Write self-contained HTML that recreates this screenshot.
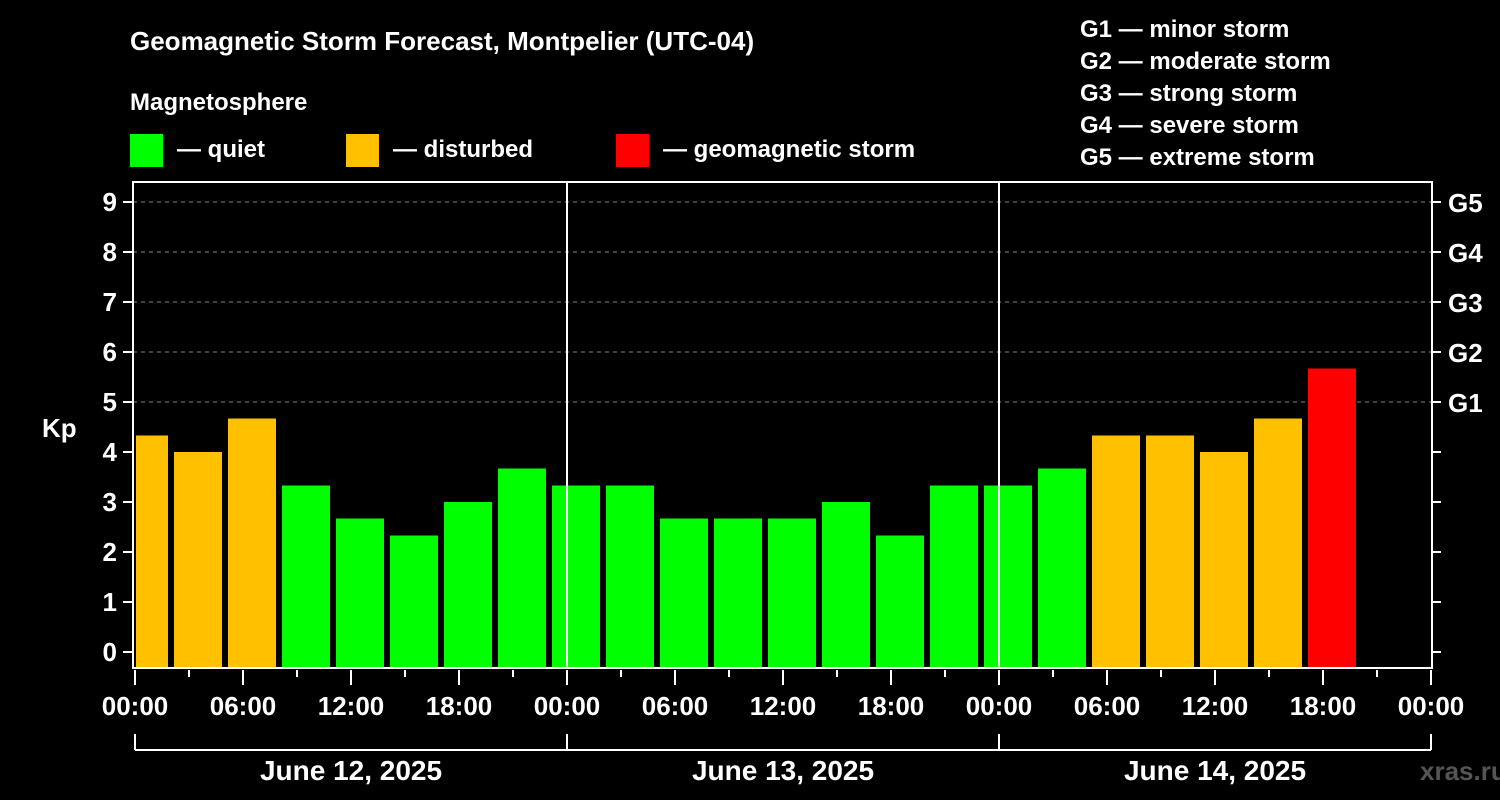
<!DOCTYPE html>
<html><head><meta charset="utf-8"><style>
html,body{margin:0;padding:0;background:#000;}
svg{display:block;font-family:"Liberation Sans",Arial,sans-serif;font-weight:bold;}
</style></head><body>
<svg id="c" width="1500" height="800" viewBox="0 0 1500 800">
<rect width="1500" height="800" fill="#000"/>
<text x="130" y="50" fill="#fff" font-size="26">Geomagnetic Storm Forecast, Montpelier (UTC-04)</text>
<text x="130" y="110" fill="#fff" font-size="24">Magnetosphere</text>
<g><rect x="130" y="134" width="33" height="33" fill="#00ff00"/><text x="177" y="157" fill="#fff" font-size="24">— quiet</text></g>
<g><rect x="346" y="134" width="33" height="33" fill="#ffc000"/><text x="393" y="157" fill="#fff" font-size="24">— disturbed</text></g>
<g><rect x="616" y="134" width="33" height="33" fill="#ff0000"/><text x="663" y="157" fill="#fff" font-size="24">— geomagnetic storm</text></g>
<g fill="#fff" font-size="24">
<text x="1080" y="37">G1 — minor storm</text>
<text x="1080" y="69">G2 — moderate storm</text>
<text x="1080" y="101">G3 — strong storm</text>
<text x="1080" y="133">G4 — severe storm</text>
<text x="1080" y="165">G5 — extreme storm</text>
</g>
<text x="42" y="437" fill="#fff" font-size="26">Kp</text>
<text x="1420" y="780" fill="#555" font-size="26">xras.ru</text>
<g id="plot"></g>
</svg>
<script>
const kpValues=[4.33,4.0,4.67,3.33,2.67,2.33,3.0,3.67,3.33,3.33,2.67,2.67,2.67,3.0,2.33,3.33,3.33,3.67,4.33,4.33,4.0,4.67,5.67];
const yTicks=[0,1,2,3,4,5,6,7,8,9];
const gLabels=["G1","G2","G3","G4","G5"];
const xTickLabels=["00:00","06:00","12:00","18:00","00:00","06:00","12:00","18:00","00:00","06:00","12:00","18:00","00:00"];
const dayLabels=["June 12, 2025","June 13, 2025","June 14, 2025"];
const NS="http://www.w3.org/2000/svg";
const g=document.getElementById('plot');
const L=133,R=1432,T=182,B=668;
const xs=h=>135+18*h;
const ys=v=>652-50*v;
function el(t,a,txt){const e=document.createElementNS(NS,t);for(const k in a)e.setAttribute(k,a[k]);if(txt!=null)e.textContent=txt;g.appendChild(e);return e;}
// grid
for(let v=5;v<=9;v++){const e=el('line',{x1:L,x2:R,y1:ys(v),y2:ys(v),stroke:'#888','stroke-dasharray':'4,4','stroke-width':1});

}
// bars
kpValues.forEach((v,i)=>{let x=xs(3*i)-15,w=48;if(x<L+3){w-= (L+3-x);x=L+3;}
const c=v>=5?'#ff0000':(v>=4?'#ffc000':'#00ff00');
const e=el('rect',{x:x,y:ys(v),width:w,height:B-ys(v),fill:c});

});
// day separators
[1,2].forEach(d=>{const e=el('line',{x1:xs(24*d),x2:xs(24*d),y1:T,y2:B,stroke:'#fff','stroke-width':2});

});
// frame
const f=el('rect',{x:L,y:T,width:R-L,height:B-T,fill:'none',stroke:'#fff','stroke-width':2});


// y ticks
yTicks.forEach(v=>{el('line',{x1:L-10,x2:L,y1:ys(v),y2:ys(v),stroke:'#fff','stroke-width':2});
el('line',{x1:R,x2:R+9,y1:ys(v),y2:ys(v),stroke:'#fff','stroke-width':2});
const t=el('text',{x:L-16,y:ys(v)+9,fill:'#fff','font-size':26,'text-anchor':'end'},String(v));

});
gLabels.forEach((s,i)=>{const t=el('text',{x:1448,y:ys(5+i)+10,fill:'#fff','font-size':26},s);

});
// x ticks
for(let h=0;h<=72;h+=3){const major=h%6===0;el('line',{x1:xs(h),x2:xs(h),y1:B+2,y2:B+(major?17:9),stroke:'#fff','stroke-width':2});}
xTickLabels.forEach((s,i)=>{const t=el('text',{x:xs(6*i),y:715,fill:'#fff','font-size':26,'text-anchor':'middle'},s);

});
// day bracket
el('line',{x1:xs(0),x2:xs(72),y1:750,y2:750,stroke:'#fff','stroke-width':2});
[0,1,2,3].forEach(d=>el('line',{x1:xs(24*d),x2:xs(24*d),y1:734,y2:750,stroke:'#fff','stroke-width':2}));
dayLabels.forEach((s,i)=>{const t=el('text',{x:xs(24*i+12),y:780,fill:'#fff','font-size':28,'text-anchor':'middle'},s);

});
</script>
</body></html>
